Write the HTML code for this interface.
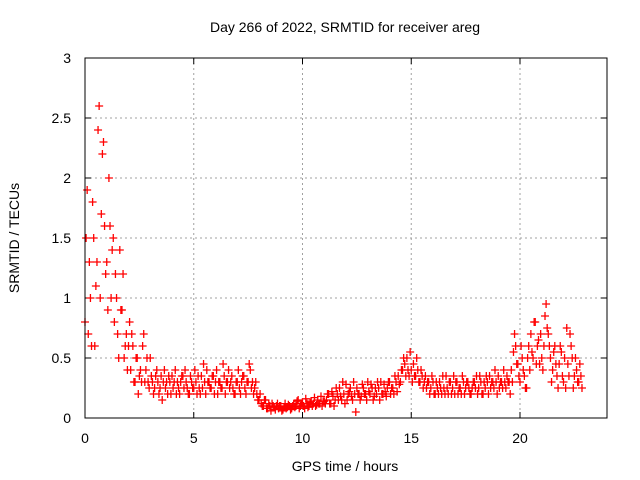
<!DOCTYPE html>
<html><head><meta charset="utf-8"><style>
body{margin:0;background:#fff;}
svg{display:block;font-family:"Liberation Sans",sans-serif;}
</style></head><body>
<svg id="chart" width="640" height="480">
<rect width="640" height="480" fill="#fff"/>
<text x="345" y="32" font-size="14" text-anchor="middle">Day 266 of 2022, SRMTID for receiver areg</text>
<text x="0" y="0" font-size="14" text-anchor="middle" transform="translate(19,238) rotate(-90)">SRMTID / TECUs</text>
<text x="345" y="471" font-size="14" text-anchor="middle">GPS time / hours</text>
<g id="grid"></g><g id="ticks"></g><g id="marks"></g>
<rect x="85" y="58" width="522" height="360" fill="none" stroke="#000" stroke-width="1"/>
</svg>
<script>
const xTicks=[0,5,10,15,20];
const yTicks=[0,0.5,1,1.5,2,2.5,3];
const yTickLabels=["0","0.5","1","1.5","2","2.5","3"];
const t0=0, t0b=0.05, dt=0.1;
const values=[0.8,1.9,1.3,0.6,1.5,1.1,2.4,1.0,2.2,1.6,1.3,2.0,1.0,1.5,1.2,0.7,1.4,0.9,0.5,0.7,0.6,
0.4,0.6,0.3,0.5,0.35,0.3,0.7,0.4,0.3,0.5,
0.3,0.25,0.4,0.2,0.35,0.3,0.25,0.2,0.3,0.35,0.3,0.2,0.25,0.3,0.35,0.4,0.25,0.2,0.3,0.25,
0.3,0.35,0.2,0.25,0.3,0.4,0.3,0.25,0.35,0.3,0.2,0.3,0.25,0.35,0.3,0.4,0.3,0.25,0.2,0.3,
0.25,0.3,0.35,0.2,0.3,0.4,0.3,0.25,0.2,0.15,
0.12,0.1,0.15,0.08,0.1,0.12,0.09,0.1,0.08,0.1,0.07,0.12,0.09,0.1,0.08,0.12,0.1,0.15,0.1,0.12,0.08,0.12,0.1,0.14,0.12,0.1,0.15,0.12,0.1,0.14,
0.15,0.2,0.12,0.18,0.15,0.2,0.25,0.15,0.2,0.28,0.2,0.25,0.15,0.2,0.25,0.2,0.18,0.25,0.2,0.3,0.2,0.25,0.18,0.2,0.25,0.3,0.2,0.22,0.25,0.3,0.25,0.2,0.3,0.35,0.3,
0.4,0.45,0.5,0.35,0.4,0.45,0.35,0.4,0.3,0.35,0.3,0.25,0.3,0.25,0.3,
0.2,0.25,0.3,0.2,0.25,0.35,0.2,0.3,0.25,0.2,0.3,0.25,0.2,0.3,0.25,0.3,0.2,0.25,0.3,0.35,0.25,0.3,0.2,0.25,0.3,0.35,0.3,0.25,0.3,0.35,0.3,0.25,0.3,0.35,0.3,
0.4,0.55,0.6,0.45,0.3,0.5,0.35,0.25,0.6,0.7,0.5,0.8,0.6,0.45,0.5,0.6,0.95,0.7,0.5,0.4,0.6,0.35,0.45,0.55,0.3,0.25,0.45,0.7,0.5,0.35,0.4,0.3,0.35];
const values2=[1.5,0.7,1.0,1.8,0.6,1.3,2.6,1.7,2.3,1.2,0.9,1.6,1.4,0.8,1.0,0.5,0.9,1.2,0.6,0.4,0.8,
0.7,0.3,0.5,0.2,0.4,0.6,0.3,0.5,0.25,0.35,
0.2,0.35,0.3,0.25,0.15,0.4,0.3,0.35,0.2,0.25,0.4,0.3,0.2,0.35,0.25,0.3,0.2,0.35,0.25,0.4,
0.2,0.25,0.35,0.45,0.2,0.3,0.25,0.35,0.2,0.4,0.3,0.25,0.45,0.2,0.3,0.25,0.35,0.2,0.3,0.4,
0.2,0.35,0.25,0.3,0.45,0.25,0.2,0.3,0.15,0.2,
0.1,0.15,0.08,0.12,0.06,0.1,0.07,0.12,0.1,0.06,0.09,0.08,0.11,0.07,0.1,0.09,0.14,0.08,0.12,0.1,0.16,0.09,0.13,0.1,0.17,0.11,0.12,0.18,0.14,0.12,
0.2,0.12,0.22,0.1,0.25,0.15,0.18,0.3,0.12,0.15,0.22,0.18,0.3,0.05,0.2,0.15,0.28,0.2,0.15,0.22,0.28,0.15,0.25,0.3,0.15,0.2,0.28,0.18,0.3,0.2,0.25,0.35,0.22,0.28,0.4,
0.5,0.35,0.4,0.55,0.3,0.35,0.5,0.3,0.4,0.25,0.35,0.3,0.2,0.35,0.2,
0.3,0.2,0.25,0.35,0.2,0.25,0.3,0.2,0.35,0.3,0.2,0.25,0.35,0.2,0.3,0.25,0.2,0.3,0.25,0.2,0.35,0.2,0.3,0.35,0.2,0.25,0.3,0.4,0.2,0.25,0.3,0.4,0.25,0.3,0.2,
0.3,0.7,0.45,0.35,0.6,0.4,0.25,0.5,0.4,0.55,0.8,0.45,0.65,0.7,0.4,0.85,0.75,0.6,0.3,0.55,0.45,0.25,0.6,0.35,0.5,0.75,0.35,0.6,0.25,0.5,0.3,0.45,0.25];
const NS="http://www.w3.org/2000/svg";
const X=v=>85+v*(522/24);
const Y=v=>418-v*120;
function mk(tag,attrs,parent){const e=document.createElementNS(NS,tag);for(const k in attrs)e.setAttribute(k,attrs[k]);parent.appendChild(e);return e;}
const grid=document.getElementById('grid'),ticks=document.getElementById('ticks'),marks=document.getElementById('marks');
xTicks.forEach(v=>{
  const x=X(v);
  if(v>0){const g=mk('line',{x1:x,x2:x,y1:58,y2:418,stroke:'#a0a0a0','stroke-dasharray':'2,3'},grid);
  
  }
  mk('line',{x1:x,x2:x,y1:418,y2:412,stroke:'#000'},ticks);
  mk('line',{x1:x,x2:x,y1:58,y2:64,stroke:'#000'},ticks);
  const t=mk('text',{x:x,y:443,'font-size':14,'text-anchor':'middle'},ticks);
  t.textContent=v;
  
  
});
yTicks.forEach((v,i)=>{
  const y=Y(v);
  if(v>0&&v<3){const g=mk('line',{x1:85,x2:607,y1:y,y2:y,stroke:'#a0a0a0','stroke-dasharray':'2,3'},grid);
  
  }
  mk('line',{x1:85,x2:91,y1:y,y2:y,stroke:'#000'},ticks);
  mk('line',{x1:601,x2:607,y1:y,y2:y,stroke:'#000'},ticks);
  const t=mk('text',{x:71,y:y+5,'font-size':14,'text-anchor':'end'},ticks);
  t.textContent=yTickLabels[i];
  
  
});
function plot(arr,start){
  arr.forEach((v,i)=>{
    const x=X(start+i*dt),y=Y(v);
    const p=mk('path',{d:`M${x-4},${y}h8M${x},${y-4}v8`,stroke:'#ff0000','stroke-width':1.3,fill:'none'},marks);
    
    
  });
}
plot(values,t0);
plot(values2,t0b);
</script>
</body></html>
